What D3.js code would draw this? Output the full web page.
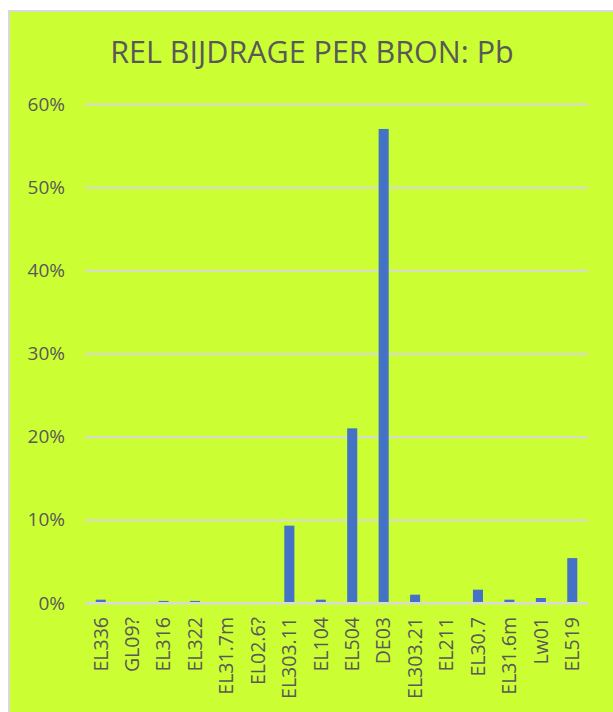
<!DOCTYPE html>
<html>
<head>
<meta charset="utf-8">
<script src="https://cdn.jsdelivr.net/npm/d3@7"></script>
<style>
  html, body { margin: 0; padding: 0; background: #ffffff; }
  svg { display: block; }
</style>
</head>
<body>
<svg id="chart" width="613" height="712"></svg>
<script>
const categories = ["EL336", "GL09?", "EL316", "EL322", "EL31.7m", "EL02.6?", "EL303.11", "EL104", "EL504", "DE03", "EL303.21", "EL211", "EL30.7", "EL31.6m", "Lw01", "EL519"];
const values = [0.004, 0, 0.0025, 0.0025, 0, 0, 0.093, 0.004, 0.21, 0.57, 0.010, 0, 0.016, 0.004, 0.006, 0.054];
const yTicks = [0, 0.1, 0.2, 0.3, 0.4, 0.5, 0.6];
const title = "REL BIJDRAGE PER BRON: Pb";

const svg = d3.select("#chart");
const W = 613, H = 712;
const textColor = "#595959";
const font = "'Open Sans', sans-serif";

svg.append("rect").attr("x", 0).attr("y", 0).attr("width", W).attr("height", H).attr("fill", "#ffffff");
svg.append("rect").attr("x", 9).attr("y", 11).attr("width", 640).attr("height", 740)
  .attr("fill", "#CCFF33").attr("stroke", "#d9d9d9").attr("stroke-width", 2);

const x = d3.scaleBand().domain(categories).range([85, 588]).paddingInner(0.68).paddingOuter(0.34);
const y = d3.scaleLinear().domain([0, 0.6]).range([603, 104]);

// gridlines
const yAxis = d3.axisLeft(y).tickValues(yTicks).tickFormat(d3.format(".0%")).tickSize(-(588 - 85)).tickPadding(20);
const gy = svg.append("g").attr("transform", "translate(85,0)").call(yAxis);
gy.select(".domain").remove();
gy.selectAll(".tick line").attr("stroke", "#d9d9d9").attr("stroke-width", 2);
gy.selectAll(".tick text").attr("fill", textColor).attr("font-family", font).attr("font-size", 19);

// bars
svg.append("g").selectAll("rect").data(categories).join("rect")
  .attr("x", d => x(d))
  .attr("width", x.bandwidth())
  .attr("y", (d, i) => y(values[i]))
  .attr("height", (d, i) => y(0) - y(values[i]))
  .attr("fill", "#4472C4");

// x axis line
const xAxis = d3.axisBottom(x).tickSize(0).tickPadding(0);
const gx = svg.append("g").attr("transform", "translate(0,603)").call(xAxis);
gx.select(".domain").attr("stroke", "#d9d9d9").attr("stroke-width", 2).attr("d", "M85,0H588");
gx.selectAll(".tick text")
  .attr("fill", textColor).attr("font-family", font).attr("font-size", 19.5)
  .attr("text-anchor", "end")
  .attr("transform", "rotate(-90)")
  .attr("x", -14).attr("y", 0).attr("dy", "0.35em");

// title
svg.append("text").attr("x", 312).attr("y", 63).attr("text-anchor", "middle")
  .attr("fill", textColor).attr("font-family", font).attr("font-size", 30.5)
  .text(title);
</script>
</body>
</html>
